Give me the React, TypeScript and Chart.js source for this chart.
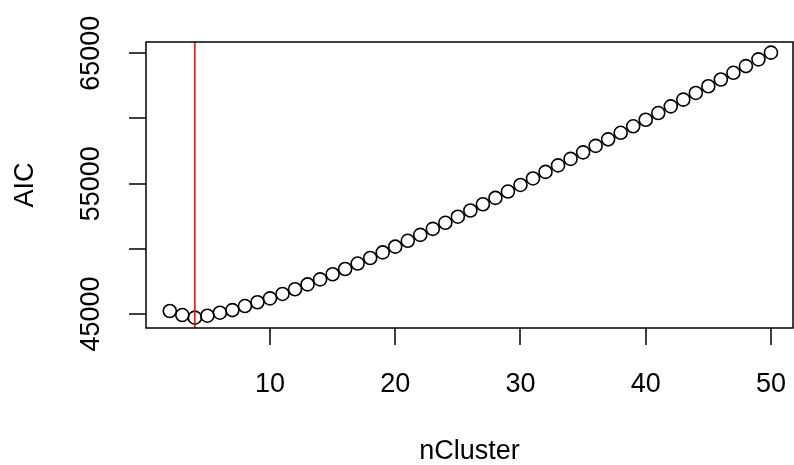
import React, { useEffect, useRef } from "react";
import { Chart, registerables } from "chart.js";

Chart.register(...registerables);

const nCluster: number[] = [
  2, 3, 4, 5, 6, 7, 8, 9, 10, 11, 12, 13, 14, 15, 16, 17, 18, 19, 20, 21, 22, 23, 24, 25, 26,
  27, 28, 29, 30, 31, 32, 33, 34, 35, 36, 37, 38, 39, 40, 41, 42, 43, 44, 45, 46, 47, 48, 49, 50,
];
const aicValues: number[] = [
  45230, 44920, 44720, 44870, 45100, 45300, 45610, 45900, 46200,
  46540, 46900, 47270, 47655, 48050, 48455, 48870, 49295, 49725, 50165,
  50615, 51070, 51530, 51995, 52465, 52940, 53420, 53905, 54395, 54900,
  55400, 55900, 56400, 56900, 57400, 57900, 58400, 58900, 59400, 59900,
  60415, 60930, 61445, 61960, 62475, 62990, 63505, 64020, 64535, 65050,
];
const bestCluster = 4;
const xTicks: number[] = [10, 20, 30, 40, 50];
const yTicks: number[] = [45000, 50000, 55000, 60000, 65000];
const yTickLabels: number[] = [45000, 55000, 65000];
const xTitle = "nCluster";
const yTitle = "AIC";

const FONT_SIZE = 27;
const FONT = `${FONT_SIZE}px "Liberation Sans", Arial, sans-serif`;

const rAxesPlugin = {
  id: "rAxes",
  afterDatasetsDraw(chart: any) {
    const { ctx, chartArea, scales } = chart;
    const xs = scales.x;
    const { top, bottom } = chartArea;
    ctx.save();
    const xr = xs.getPixelForValue(bestCluster);
    ctx.strokeStyle = "#ff0000";
    ctx.lineWidth = 1.5;
    ctx.beginPath();
    ctx.moveTo(xr, top);
    ctx.lineTo(xr, bottom);
    ctx.stroke();
    ctx.restore();
  },
  afterDraw(chart: any) {
    const { ctx, chartArea, scales } = chart;
    const xs = scales.x;
    const ys = scales.y;
    const { left, right, top, bottom } = chartArea;
    const tickLen = 17;
    ctx.save();
    ctx.strokeStyle = "#000";
    ctx.lineWidth = 1.5;
    ctx.strokeRect(left, top, right - left, bottom - top);
    ctx.beginPath();
    xTicks.forEach((v) => {
      const px = Math.round(xs.getPixelForValue(v));
      ctx.moveTo(px, bottom);
      ctx.lineTo(px, bottom + tickLen);
    });
    yTicks.forEach((v) => {
      const py = Math.round(ys.getPixelForValue(v));
      ctx.moveTo(left, py);
      ctx.lineTo(left - tickLen, py);
    });
    ctx.stroke();

    ctx.fillStyle = "#000";
    ctx.font = FONT;
    ctx.textAlign = "center";
    ctx.textBaseline = "middle";
    xTicks.forEach((v) => {
      ctx.fillText(String(v), xs.getPixelForValue(v), 385);
    });
    ctx.fillText(xTitle, (left + right) / 2, 452);
    yTickLabels.forEach((v) => {
      ctx.save();
      ctx.translate(92, ys.getPixelForValue(v));
      ctx.rotate(-Math.PI / 2);
      ctx.fillText(String(v), 0, 0);
      ctx.restore();
    });
    ctx.save();
    ctx.translate(26, (top + bottom) / 2);
    ctx.rotate(-Math.PI / 2);
    ctx.fillText(yTitle, 0, 0);
    ctx.restore();
    ctx.restore();
  },
};

export default function App() {
  const canvasRef = useRef<HTMLCanvasElement | null>(null);

  useEffect(() => {
    if (!canvasRef.current) return;
    const data = nCluster.map((x, i) => ({ x, y: aicValues[i] }));
    const chart = new Chart(canvasRef.current, {
      type: "scatter",
      data: {
        datasets: [
          {
            data,
            pointRadius: 6.5,
            pointHoverRadius: 6.5,
            pointBorderColor: "#000",
            pointBackgroundColor: "rgba(0,0,0,0)",
            pointBorderWidth: 1.6,
            showLine: false,
          },
        ],
      },
      options: {
        responsive: false,
        animation: false,
        layout: { autoPadding: false, padding: { top: 42, right: 1, left: 0, bottom: 0 } },
        plugins: {
          legend: { display: false },
          tooltip: { enabled: false },
        },
        scales: {
          x: {
            type: "linear",
            min: 0.1,
            max: 51.76,
            grid: { display: false },
            border: { display: false },
            ticks: { display: false },
            afterFit: (scale: any) => {
              scale.height = 465 - 328;
            },
          },
          y: {
            type: "linear",
            min: 43926,
            max: 65867,
            grid: { display: false },
            border: { display: false },
            ticks: { display: false },
            afterFit: (scale: any) => {
              scale.width = 146;
            },
          },
        },
      },
      plugins: [rAxesPlugin],
    });
    return () => chart.destroy();
  }, []);

  return (
    <div style={{ position: "fixed", left: 0, top: 0, width: 794, height: 465, background: "#fff" }}>
      <canvas ref={canvasRef} width={794} height={465} style={{ width: 794, height: 465 }} />
    </div>
  );
}
